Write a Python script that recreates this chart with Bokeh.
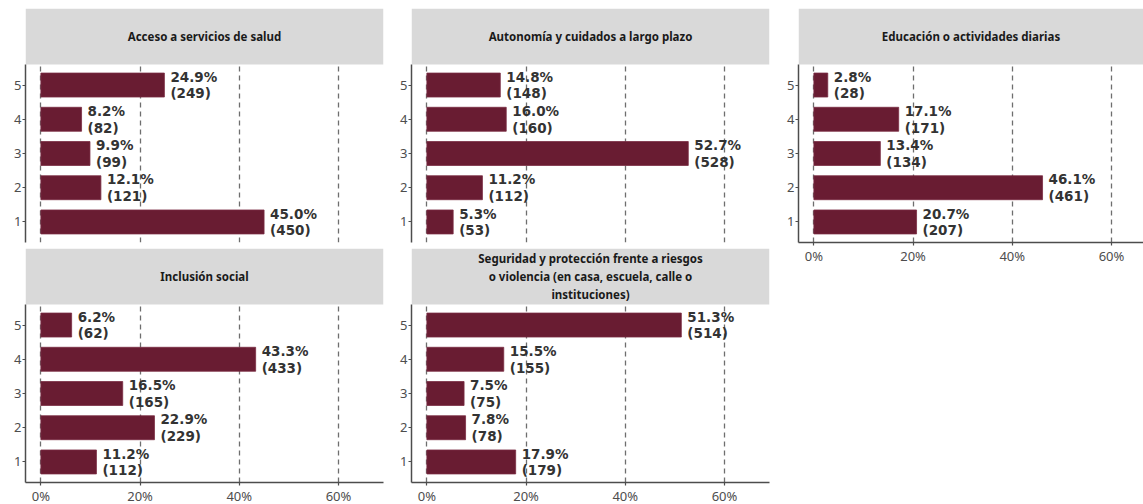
from bokeh.plotting import figure
from bokeh.layouts import row, column
from bokeh.models import Range1d, FixedTicker, CustomJSTickFormatter, ColumnDataSource
from bokeh.core.properties import value
from bokeh.embed import file_html
from bokeh.resources import INLINE

categories = [1, 2, 3, 4, 5]
titles = [
    "Acceso a servicios de salud",
    "Autonomía y cuidados a largo plazo",
    "Educación o actividades diarias",
    "Inclusión social",
    "Seguridad y protección frente a riesgos\no violencia (en casa, escuela, calle o\ninstituciones)",
]
pct_salud = [45.0, 12.1, 9.9, 8.2, 24.9]
n_salud = [450, 121, 99, 82, 249]
pct_autonomia = [5.3, 11.2, 52.7, 16.0, 14.8]
n_autonomia = [53, 112, 528, 160, 148]
pct_educacion = [20.7, 46.1, 13.4, 17.1, 2.8]
n_educacion = [207, 461, 134, 171, 28]
pct_inclusion = [11.2, 22.9, 16.5, 43.3, 6.2]
n_inclusion = [112, 229, 165, 433, 62]
pct_seguridad = [17.9, 7.8, 7.5, 15.5, 51.3]
n_seguridad = [179, 78, 75, 155, 514]
x_ticks = [0, 20, 40, 60]

BAR = "#691C32"
STRIP = "#D9D9D9"
AX = "#4D4D4D"
STRIP_H = 56
PX_PER_PCT = 4.96
X0 = -3.1


def panel(title, pct, n, frame_w, plot_h, show_x, left=25, right=11, top=8, bottom=6):
    span = frame_w / PX_PER_PCT
    xr = Range1d(X0, X0 + span)
    unit = plot_h / 5.2
    ytop = 5.6 + STRIP_H / unit
    yr = Range1d(0.4, ytop)
    p = figure(width=left + frame_w + right, height=top + plot_h + STRIP_H + (20 if show_x else bottom),
               frame_width=frame_w, frame_height=plot_h + STRIP_H,
               x_range=xr, y_range=yr, output_backend="svg", toolbar_location=None,
               min_border_left=left, min_border_right=right, min_border_top=top,
               min_border_bottom=(0 if show_x else bottom))
    p.outline_line_color = None
    p.background_fill_color = "white"
    p.border_fill_color = "white"
    labels = ["%.1f%%\n(%d)" % (a, b) for a, b in zip(pct, n)]
    src = ColumnDataSource(dict(y=categories, x=pct, lab=labels))
    p.hbar(y="y", left=0, right="x", height=0.7, source=src, fill_color=BAR, line_color="#7A2C42", line_width=0.8)
    p.text(x="x", y="y", text="lab", source=src, x_offset=6, text_align="left", text_baseline="middle",
           text_font=value("DejaVu Sans"), text_font_style="bold", text_font_size="13.5px",
           text_color="#333333", text_line_height=1.05)
    # strip
    p.quad(left=[xr.start], right=[xr.end], bottom=[5.6], top=[ytop], fill_color=STRIP, line_color=None)
    p.text(x=[(xr.start + xr.end) / 2], y=[(5.6 + ytop) / 2], text=[title], text_align="center",
           text_baseline="middle", text_font=value("Noto Sans"), text_font_style="bold",
           text_font_size="11.5px", text_color="#1A1A1A", text_line_height=1.2)
    p.ygrid.visible = False
    p.xgrid.ticker = FixedTicker(ticks=x_ticks)
    p.xgrid.grid_line_color = "#6E6E6E"
    p.xgrid.grid_line_dash = "5 4"
    p.xgrid.grid_line_width = 1.3
    p.yaxis.ticker = FixedTicker(ticks=categories)
    p.yaxis.bounds = (0.4, 5.6)
    p.xaxis.ticker = FixedTicker(ticks=x_ticks)
    p.xaxis.formatter = CustomJSTickFormatter(code="return tick + '%';")
    for ax in (p.xaxis[0], p.yaxis[0]):
        ax.axis_line_color = AX
        ax.axis_line_width = 1.5
        ax.major_tick_line_color = AX
        ax.major_tick_line_width = 1.2
        ax.major_tick_out = 3
        ax.major_tick_in = 0
        ax.minor_tick_line_color = None
        ax.major_label_text_font = "Noto Sans"
        ax.major_label_text_font_size = "13px"
        ax.major_label_text_color = AX
        ax.major_label_standoff = 1
    if not show_x:
        p.xaxis.visible = False
    return p


p1 = panel(titles[0], pct_salud, n_salud, 358, 178, False, right=11)
p2 = panel(titles[1], pct_autonomia, n_autonomia, 358, 178, False, left=17, right=12)
p3 = panel(titles[2], pct_educacion, n_educacion, 345, 178, True, left=17, right=0)
p4 = panel(titles[3], pct_inclusion, n_inclusion, 358, 178, True, top=0, right=11)
p5 = panel(titles[4], pct_seguridad, n_seguridad, 358, 178, True, left=17, top=0, right=12)

layout = row(column(row(p1, p2), row(p4, p5)), p3)

open("out.html", "w").write(file_html(layout, INLINE))
